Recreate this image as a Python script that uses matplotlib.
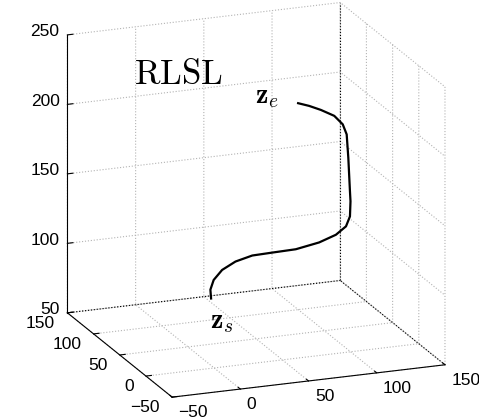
import numpy as np
import matplotlib.pyplot as plt
from mpl_toolkits.mplot3d import proj3d

plt.rcParams['mathtext.fontset'] = 'cm'
plt.rcParams['font.family'] = ['Liberation Sans', 'DejaVu Sans']

# trajectory (approximate 3D positions)
px = [43.8, 43.3, 45.7, 51.9, 61.7, 74.0, 88.7, 105.9, 123.0, 135.3, 142.7,
      145.6, 146.0, 145.6, 144.4, 143.2, 140.3, 134.1, 124.3, 115.7, 107.6]
py = [120.0] * len(px)
pz = [58.5, 64.9, 71.6, 78.1, 83.0, 85.9, 86.3, 86.7, 89.6, 93.7, 98.9,
      105.7, 116.5, 123.8, 148.0, 165.0, 172.6, 179.4, 184.8, 188.7, 191.6]

xy_ticks = [-50, 0, 50, 100, 150]
z_ticks = [50, 100, 150, 200, 250]


def lab(t):
    return str(t).replace('-', '\u2212')


fig = plt.figure(figsize=(4.79, 4.2), dpi=100)
ax = fig.add_subplot(projection='3d', proj_type='ortho')
ax.set_position([0.023, 0.0107, 1.0, 1.0])
ax.view_init(elev=18, azim=-111)
ax.set_box_aspect((1, 1, 1), zoom=1.17)

ax.plot(px, py, pz, color='k', lw=1.6)

# dark dotted back box edges
ax.plot([150, 150], [150, 150], [50, 250], color='k', ls=':', lw=0.8)
ax.plot([-50, 150], [150, 150], [50, 50], color='k', ls=':', lw=0.8)
ax.plot([150, 150], [-50, 150], [50, 50], color='k', ls=':', lw=0.8)

ax.set_xlim(-50, 150)
ax.set_ylim(-50, 150)
ax.set_zlim(50, 250)
ax.set_xticks(xy_ticks)
ax.set_yticks(xy_ticks)
ax.set_zticks(z_ticks)

for axis in (ax.xaxis, ax.yaxis, ax.zaxis):
    axis.set_pane_color((1, 1, 1, 0))
    axis.pane.set_edgecolor('none')
    axis.line.set_color('k')
    axis.line.set_linewidth(0.8)
    axis._axinfo['grid'].update(color=(0.7, 0.7, 0.7), linestyle=':',
                                linewidth=0.8)
    axis._axinfo['tick']['inward_factor'] = 0.0
    axis._axinfo['tick']['outward_factor'] = 0.25
    # labels are drawn by hand below, MATLAB style
    axis.set_tick_params(labelbottom=False, labelleft=False,
                         labeltop=False, labelright=False)

fig.canvas.draw()
M = ax.get_proj()


def label3d(x, y, z, s, ha):
    x2, y2, _ = proj3d.proj_transform(x, y, z, M)
    ax.text2D(x2, y2, s, ha=ha, va='center', fontsize=12.5,
              transform=ax.transData)


for t in xy_ticks:
    label3d(t, -62, 42.5, lab(t), 'left')
    label3d(-59, t, 43.5, lab(t), 'right')
for t in z_ticks:
    label3d(-50, 165, t - 2.4, lab(t), 'right')

fig.text(0.28, 0.80, r'$\mathrm{RLSL}$', fontsize=25)
fig.text(0.532, 0.755, r'$\mathbf{z}_e$', fontsize=20)
fig.text(0.438, 0.219, r'$\mathbf{z}_s$', fontsize=20)

plt.savefig('out.png', dpi=100)
